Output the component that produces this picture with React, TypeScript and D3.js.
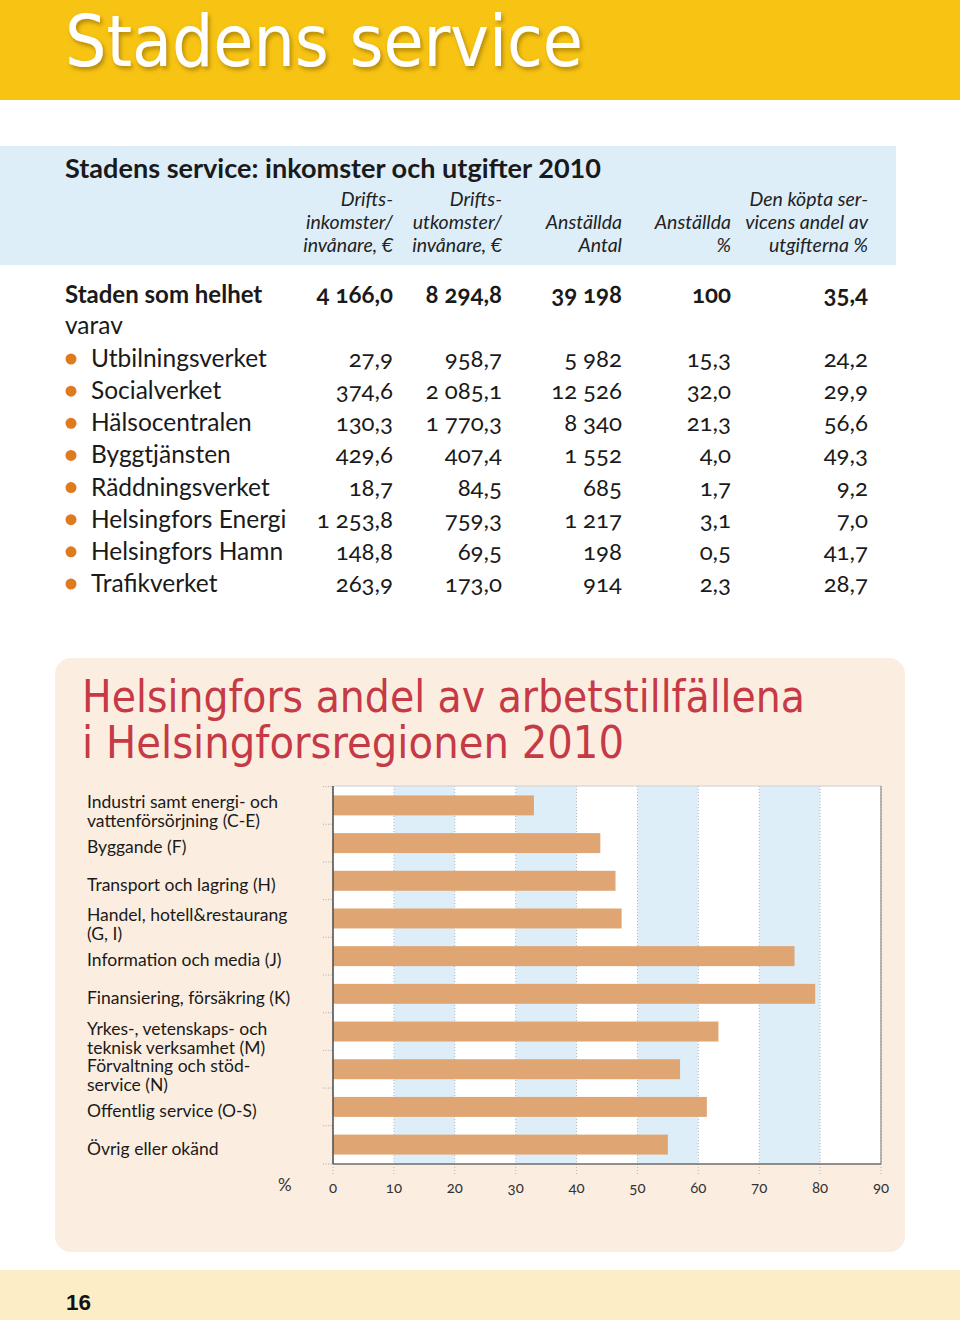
import React from 'react';
import * as d3 from 'd3';

// ---------- Table data ----------
const pageTitle = 'Stadens service';
const tableTitle = 'Stadens service: inkomster och utgifter 2010';
const columnHeaders: string[][] = [
  ['Drifts-', 'inkomster/', 'invånare, €'],
  ['Drifts-', 'utkomster/', 'invånare, €'],
  ['', 'Anställda', 'Antal'],
  ['', 'Anställda', '%'],
  ['Den köpta ser-', 'vicens andel av', 'utgifterna %'],
];
const totalLabel = 'Staden som helhet';
const totalValues = [4166.0, 8294.8, 39198, 100, 35.4];
const subLabel = 'varav';
const units = [
  'Utbilningsverket',
  'Socialverket',
  'Hälsocentralen',
  'Byggtjänsten',
  'Räddningsverket',
  'Helsingfors Energi',
  'Helsingfors Hamn',
  'Trafikverket',
];
const inkomster = [27.9, 374.6, 130.3, 429.6, 18.7, 1253.8, 148.8, 263.9];
const utkomster = [958.7, 2085.1, 1770.3, 407.4, 84.5, 759.3, 69.5, 173.0];
const anstallda = [5982, 12526, 8340, 1552, 685, 1217, 198, 914];
const anstalldaPct = [15.3, 32.0, 21.3, 4.0, 1.7, 3.1, 0.5, 2.3];
const koptaAndel = [24.2, 29.9, 56.6, 49.3, 9.2, 7.0, 41.7, 28.7];

// ---------- Bar chart data ----------
const chartTitle = ['Helsingfors andel av arbetstillfällena', 'i Helsingforsregionen 2010'];
const sectors: string[][] = [
  ['Industri samt energi- och', 'vattenförsörjning (C-E)'],
  ['Byggande (F)'],
  ['Transport och lagring (H)'],
  ['Handel, hotell&restaurang', '(G, I)'],
  ['Information och media (J)'],
  ['Finansiering, försäkring (K)'],
  ['Yrkes-, vetenskaps- och', 'teknisk verksamhet (M)'],
  ['Förvaltning och stöd-', 'service (N)'],
  ['Offentlig service (O-S)'],
  ['Övrig eller okänd'],
];
const shares = [33.0, 43.9, 46.4, 47.4, 75.8, 79.2, 63.3, 57.0, 61.4, 55.0];
const xTicks = [0, 10, 20, 30, 40, 50, 60, 70, 80, 90];
const unitLabel = '%';
const pageNumber = '16';

const locale = d3.formatLocale({
  decimal: ',',
  thousands: '\u2005',
  grouping: [3],
  currency: ['', ' €'],
});
const fmt1 = locale.format(',.1f');
const fmt0 = locale.format(',d');
const colFormats = [fmt1, fmt1, fmt0, (v: number) => (v === 100 ? '100' : fmt1(v)), fmt1];

const FONT = 'Lato, "Open Sans", sans-serif';
const TITLE_FONT = '"DejaVu Sans Condensed", "DejaVu Sans", sans-serif';

export default function App() {
  const W = 960;
  const H = 1320;

  // table columns (right edges)
  const colX = [393, 502, 622, 731, 868];
  const columns = [inkomster, utkomster, anstallda, anstalldaPct, koptaAndel];
  const rowY = d3.scaleLinear().domain([0, units.length - 1]).range([367, 592]);

  // bar chart scales
  const plot = { left: 333, right: 881, top: 786, bottom: 1164 };
  const x = d3.scaleLinear().domain([0, 90]).range([plot.left, plot.right]);
  const idx = sectors.map((_, i) => String(i));
  const y = d3
    .scaleBand<string>()
    .domain(idx)
    .range([plot.top, plot.bottom])
    .paddingInner(0.47)
    .paddingOuter(0.25);
  const gapHalf = (y.step() - y.bandwidth()) / 2;
  const bandEdges = idx.map((k) => (y(k) as number) - gapHalf).concat([plot.bottom]);

  const numStyle: React.CSSProperties = { fontVariantNumeric: 'oldstyle-nums' };

  return (
    <svg
      width={W}
      height={H}
      viewBox={`0 0 ${W} ${H}`}
      style={{ position: 'absolute', left: 0, top: 0, display: 'block' }}
      fontFamily={FONT}
    >
      <defs>
        <filter id="shadow" x="-5%" y="-20%" width="110%" height="150%">
          <feDropShadow dx="2" dy="3" stdDeviation="2" floodColor="#7a5a00" floodOpacity="0.55" />
        </filter>
      </defs>
      <rect x={0} y={0} width={W} height={H} fill="#ffffff" />

      {/* Header band */}
      <rect x={0} y={0} width={W} height={100} fill="#F8C413" />
      <text
        x={65}
        y={66}
        fontFamily={TITLE_FONT}
        fontSize={72}
        fill="#ffffff"
        textLength={518}
        lengthAdjust="spacingAndGlyphs"
        filter="url(#shadow)"
      >
        {pageTitle}
      </text>

      {/* Table header box */}
      <rect x={0} y={146} width={896} height={119} fill="#DDEEF9" />
      <text x={65} y={178} fontSize={26} fontWeight={700} fill="#1a1a1a" textLength={536} lengthAdjust="spacingAndGlyphs">
        {tableTitle}
      </text>
      {columnHeaders.map((lines, c) =>
        lines.map((ln, j) =>
          ln ? (
            <text
              key={`h${c}-${j}`}
              x={colX[c]}
              y={206 + j * 23}
              fontSize={19.5}
              fontStyle="italic"
              textAnchor="end"
              fill="#222"
            >
              {ln}
            </text>
          ) : null
        )
      )}

      {/* Total row */}
      <text x={65} y={303} fontSize={24} fontWeight={700} fill="#1a1a1a">
        {totalLabel}
      </text>
      {totalValues.map((v, c) => (
        <text key={`t${c}`} x={colX[c]} y={303} fontSize={24} fontWeight={700} textAnchor="end" fill="#1a1a1a" style={numStyle}>
          {colFormats[c](v)}
        </text>
      ))}
      <text x={65} y={334} fontSize={24.5} fill="#1a1a1a">
        {subLabel}
      </text>

      {units.map((u, i) => (
        <g key={u}>
          <circle cx={71} cy={rowY(i) - 8} r={5.5} fill="#E07A1F" />
          <text x={91} y={rowY(i)} fontSize={24.5} fill="#1a1a1a">
            {u}
          </text>
          {columns.map((col, c) => (
            <text key={c} x={colX[c]} y={rowY(i)} fontSize={24} textAnchor="end" fill="#1a1a1a" style={numStyle}>
              {colFormats[c](col[i])}
            </text>
          ))}
        </g>
      ))}

      {/* Chart panel */}
      <rect x={55} y={658} width={850} height={594} rx={16} fill="#FBEEE1" />
      {chartTitle.map((t, i) => (
        <text
          key={t}
          x={82}
          y={712 + i * 46}
          fontFamily={TITLE_FONT}
          fontSize={44}
          fill="#C63A46"
          textLength={i === 0 ? 723 : 542}
          lengthAdjust="spacingAndGlyphs"
        >
          {t}
        </text>
      ))}

      {/* plot background */}
      <rect x={plot.left} y={plot.top} width={plot.right - plot.left} height={plot.bottom - plot.top} fill="#ffffff" />
      {xTicks.slice(0, -1).map((t, i) =>
        i % 2 === 1 ? (
          <rect
            key={`band${t}`}
            x={x(t)}
            y={plot.top}
            width={x(t + 10) - x(t)}
            height={plot.bottom - plot.top}
            fill="#DDEEF9"
          />
        ) : null
      )}
      {xTicks.map((t) => (
        <line
          key={`g${t}`}
          x1={x(t)}
          x2={x(t)}
          y1={plot.top}
          y2={plot.bottom + 12}
          stroke="#b8b8b8"
          strokeWidth={1}
          strokeDasharray="1 2"
        />
      ))}

      {/* bars */}
      {shares.map((v, i) => (
        <rect key={`b${i}`} x={x(0)} y={y(String(i))} width={x(v) - x(0)} height={y.bandwidth()} fill="#DFA673" />
      ))}

      {/* frame */}
      <line x1={plot.left} x2={plot.right} y1={plot.top} y2={plot.top} stroke="#cfcfcf" strokeWidth={1} />
      <line x1={plot.right} x2={plot.right} y1={plot.top} y2={plot.bottom} stroke="#8a8a8a" strokeWidth={1.2} />
      <line x1={plot.left} x2={plot.right} y1={plot.bottom} y2={plot.bottom} stroke="#6b6b6b" strokeWidth={1.6} />
      <line x1={plot.left} x2={plot.left} y1={plot.top} y2={plot.bottom} stroke="#555" strokeWidth={1.6} />
      {bandEdges.map((e, i) => (
        <line key={`lt${i}`} x1={plot.left - 10} x2={plot.left} y1={e} y2={e} stroke="#aaa" strokeWidth={1} strokeDasharray="1 1.5" />
      ))}

      {/* x tick labels */}
      {xTicks.map((t) => (
        <text key={`xl${t}`} x={x(t)} y={1193} fontSize={15} textAnchor="middle" fill="#333" style={numStyle}>
          {t}
        </text>
      ))}
      <text x={278} y={1191} fontSize={17} fill="#333">
        {unitLabel}
      </text>

      {/* category labels */}
      {sectors.map((lines, i) => {
        const c = (y(String(i)) as number) + y.bandwidth() / 2;
        const first = c + 10 - (lines.length - 1) * 7;
        return lines.map((ln, j) => (
          <text key={`s${i}-${j}`} x={87} y={first + j * 19} fontSize={17.5} fill="#1a1a1a">
            {ln}
          </text>
        ));
      })}

      {/* footer */}
      <rect x={0} y={1270} width={W} height={50} fill="#FDEDC6" />
      <text x={66} y={1310} fontFamily='"Liberation Sans", Arial, sans-serif' fontWeight={700} fontSize={22} fill="#111" textLength={25} lengthAdjust="spacingAndGlyphs">
        {pageNumber}
      </text>
    </svg>
  );
}
